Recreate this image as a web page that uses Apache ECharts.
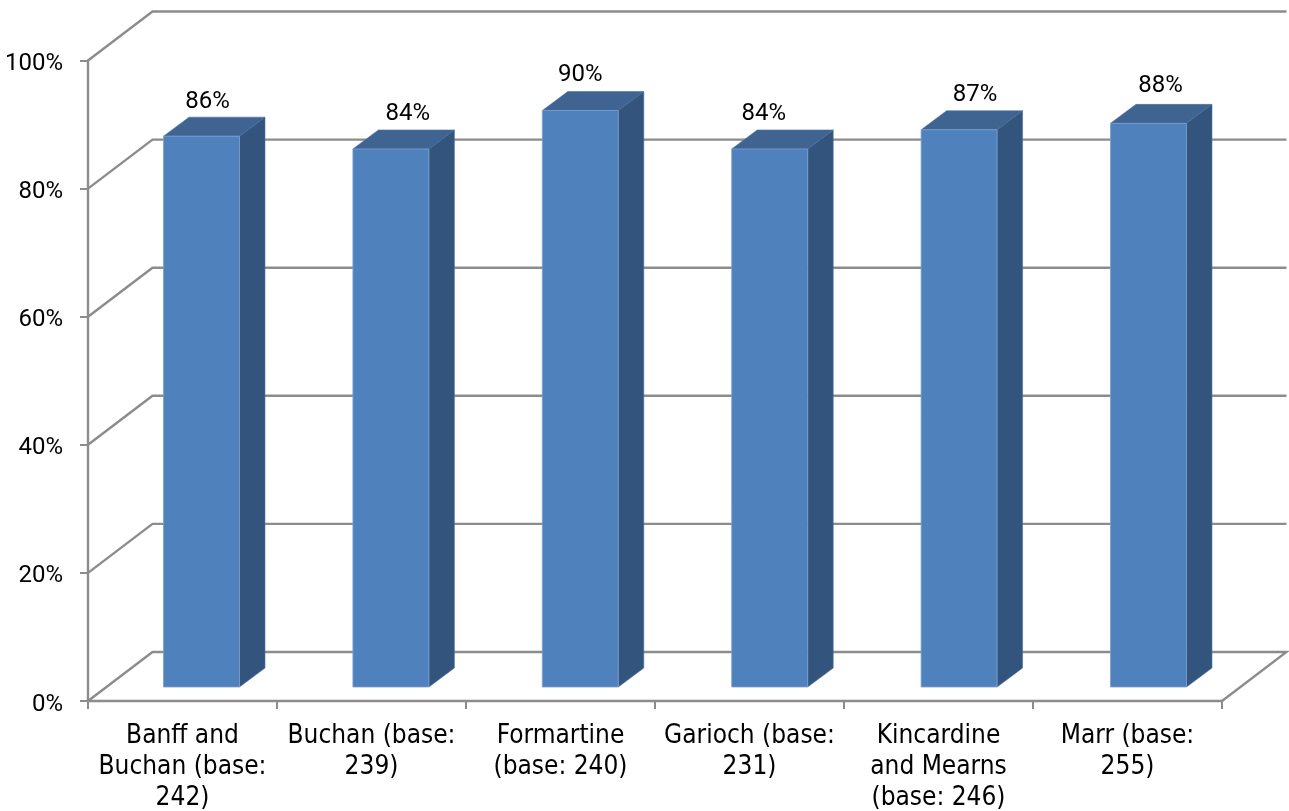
<!DOCTYPE html>
<html>
<head>
<meta charset="utf-8">
<style>html,body{margin:0;padding:0;background:#fff}#chart{width:1289px;height:811px}</style>
<script src="https://cdn.jsdelivr.net/npm/echarts@6/dist/echarts.min.js"></script>
</head>
<body>
<div id="chart"></div>
<script>
const categories = ['Banff and\nBuchan (base:\n242)', 'Buchan (base:\n239)', 'Formartine\n(base: 240)', 'Garioch (base:\n231)', 'Kincardine\nand Mearns\n(base: 246)', 'Marr (base:\n255)'];
const shares = [86, 84, 90, 84, 87, 88];
const gridValues = [0, 20, 40, 60, 80, 100];

// Hand-placed data label offsets from the centre of each bar's front face
const labelShiftX = [6, 17, 0, -6, 16, 12];
const labelShiftY = [1, 0, -1, 0, 0, -2];

const TEXT_FONT = '"DejaVu Sans Condensed", "DejaVu Sans", sans-serif';
const NUM_FONT = 'Roboto, sans-serif';
const GREY = '#8c8c8c';
// Oblique projection offsets of the pseudo-3D box
const WALL = [64.5, -49];
const INSET = [19, -14];
const DEPTH = [25.5, -19];
const BAR_DRIFT = 0.4;

const chart = echarts.init(document.getElementById('chart'), null, { renderer: 'canvas' });

function renderWall(params, api) {
  const v = api.value(0);
  const box = params.coordSys;
  const y = api.coord([0, v])[1];
  const x0 = box.x, x1 = box.x + box.width;
  const points = [[x0, y], [x0 + WALL[0], y + WALL[1]], [x1 + WALL[0], y + WALL[1]]];
  if (v === 0) points.push([x1, y]);
  return {
    type: 'polyline',
    shape: { points },
    style: { fill: 'none', stroke: GREY, lineWidth: 2.4 }
  };
}

function renderBar(params, api) {
  const i = api.value(0), v = api.value(1);
  const top = api.coord([i, v]);
  const base = api.coord([i, 0]);
  const w = api.size([1, 0])[0] * 0.402;
  const l = top[0] - w / 2 + INSET[0] + i * BAR_DRIFT, r = l + w;
  const t = top[1] + INSET[1], b = base[1] + INSET[1];
  const dx = DEPTH[0], dy = DEPTH[1];
  return {
    type: 'group',
    children: [
      { type: 'polygon', shape: { points: [[l, t], [r, t], [r + dx, t + dy], [l + dx, t + dy]] },
        style: { fill: '#3f6492', stroke: '#4a72a3', lineWidth: 0.6 } },
      { type: 'polygon', shape: { points: [[r, t], [r + dx, t + dy], [r + dx, b + dy], [r, b]] },
        style: { fill: '#33557d', stroke: '#48709f', lineWidth: 0.6 } },
      { type: 'rect', shape: { x: l, y: t, width: w, height: b - t },
        style: { fill: '#4f81bd', stroke: '#7ba0cf', lineWidth: 0.8 } },
      { type: 'text', x: l + w / 2 + labelShiftX[i], y: t + dy - 16 + labelShiftY[i],
        style: { text: v + '%', font: '24px ' + NUM_FONT, fill: '#000', align: 'center', verticalAlign: 'middle' } }
    ]
  };
}

chart.setOption({
  animation: false,
  backgroundColor: '#fff',
  grid: { left: 88, right: 67, top: 60.5, bottom: 110, containLabel: false, outerBoundsMode: 'none' },
  xAxis: {
    type: 'category',
    data: categories,
    axisLine: { lineStyle: { color: GREY, width: 2.4 } },
    axisTick: { show: true, alignWithLabel: false, length: 8, lineStyle: { color: GREY, width: 2 } },
    axisLabel: { interval: 0, margin: 20, color: '#000', fontFamily: TEXT_FONT, fontSize: 26, lineHeight: 31 }
  },
  yAxis: {
    type: 'value',
    min: 0, max: 100, interval: 20,
    axisLine: { show: true, lineStyle: { color: GREY, width: 2.4 } },
    axisTick: { show: true, length: 8, lineStyle: { color: GREY, width: 2 } },
    splitLine: { show: false },
    axisLabel: {
      margin: 25,
      color: '#000',
      formatter: '{n|{value}%}',
      rich: { n: { color: '#000', fontFamily: NUM_FONT, fontSize: 24, lineHeight: 24, padding: [7, 0, 0, 0] } }
    }
  },
  series: [
    { type: 'custom', name: 'wall', z: 1, silent: true, clip: false, renderItem: renderWall,
      encode: { y: 0 }, data: gridValues.map(v => [v]) },
    { type: 'custom', name: 'share', z: 3, silent: true, clip: false, renderItem: renderBar,
      encode: { x: 0, y: 1 }, data: shares.map((v, i) => [i, v]) }
  ]
});
</script>
</body>
</html>
